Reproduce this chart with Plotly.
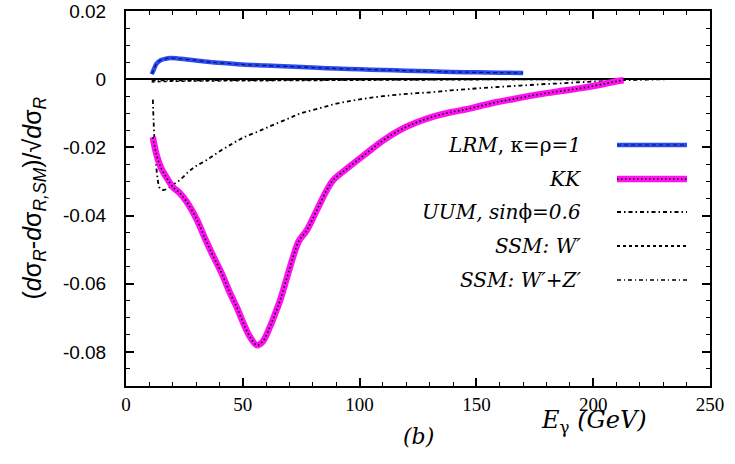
import plotly.graph_objects as go

# ---- data ----
lrm_E = [11, 12, 13, 15, 17, 19, 22, 26, 30, 35, 40, 50, 60, 70, 80, 90, 100,
         110, 120, 130, 140, 150, 160, 170]
lrm_v = [0.0015, 0.003, 0.0045, 0.0056, 0.006, 0.0062, 0.0061, 0.0058, 0.0055,
         0.0051, 0.0048, 0.0043, 0.004, 0.0037, 0.0034, 0.0031, 0.0029, 0.0027,
         0.0025, 0.0023, 0.0021, 0.002, 0.0019, 0.0018]

kk_E = [11.5, 13, 15, 17.5, 20, 23, 26, 30.4, 34, 37.4, 41, 44.5, 47.5, 50.2,
        53, 56, 58.5, 61.6, 64, 66, 69, 71.6, 74, 77.4, 81.7, 86, 88.7, 95, 103,
        110, 117, 124, 131.5, 139, 146, 152, 159, 166, 173, 180, 187, 194, 200,
        206, 210, 213]
kk_v = [-0.017, -0.022, -0.026, -0.029, -0.0316, -0.0334, -0.036, -0.0413,
        -0.047, -0.052, -0.057, -0.0627, -0.067, -0.0715, -0.0755, -0.078,
        -0.077, -0.0727, -0.0685, -0.0648, -0.058, -0.052, -0.0475, -0.0443,
        -0.0384, -0.0325, -0.0296, -0.026, -0.0217, -0.018, -0.015, -0.0128,
        -0.011, -0.0097, -0.0088, -0.0078, -0.0067, -0.0058, -0.0049, -0.0041,
        -0.0034, -0.0027, -0.002, -0.0012, -0.0006, -0.0003]

uum_E = [11.5, 11.8, 12.2, 12.8, 13.5, 14.5, 16, 18, 20, 23, 27, 30, 34.6, 40,
         45.8, 50, 56, 62, 69, 75, 83, 90, 97, 103, 110, 117, 124.5, 131.5, 139,
         145, 152, 159, 166, 173, 180, 187, 194, 200, 207, 214, 220, 226, 232]
uum_v = [-0.006, -0.012, -0.018, -0.024, -0.029, -0.032, -0.0325, -0.032,
         -0.031, -0.0296, -0.027, -0.0255, -0.0237, -0.0212, -0.0188, -0.0172,
         -0.0155, -0.0137, -0.0117, -0.010, -0.0085, -0.0072, -0.0063, -0.0056,
         -0.005, -0.0045, -0.0041, -0.0038, -0.0033, -0.003, -0.0026, -0.0023,
         -0.002, -0.0017, -0.0014, -0.0012, -0.0009, -0.0007, -0.0005, -0.0003,
         -0.0002, -0.0001, 0.0]

ssmw_E = [11, 20, 40, 60, 80, 100, 120, 140, 160, 180, 200, 220, 240]
ssmw_v = [-0.0008, -0.0006, -0.0005, -0.0004, -0.0003, -0.00025, -0.0002,
          -0.00015, -0.0001, -0.0001, -0.00005, 0.0, 0.0]
ssmwz_E = [11, 20, 40, 60, 80, 100, 120, 140, 160, 180, 200, 220, 240]
ssmwz_v = [-0.0004, -0.0004, -0.0003, -0.0003, -0.0002, -0.0002, -0.00015,
           -0.0001, -0.0001, -0.00005, 0.0, 0.0, 0.0]

x_ticks = [0, 50, 100, 150, 200, 250]
y_ticks = [0.02, 0, -0.02, -0.04, -0.06, -0.08]
y_ticktext = ["0.02", "0", "-0.02", "-0.04", "-0.06", "-0.08"]

legend_labels = ["<i>LRM</i>, κ=ρ=<i>1</i>", "<i>KK</i>",
                 "<i>UUM, sin</i>ϕ<i>=0.6</i>", "<i>SSM: W′</i>",
                 "<i>SSM: W′+Z′</i>"]

fig = go.Figure()

# curves
fig.add_trace(go.Scatter(x=ssmw_E, y=ssmw_v, mode="lines",
                         line=dict(color="black", width=1.5, dash="3px,3px")))
fig.add_trace(go.Scatter(x=ssmwz_E, y=ssmwz_v, mode="lines",
                         line=dict(color="black", width=1.5, dash="4px,2px,1px,2px")))
fig.add_trace(go.Scatter(x=uum_E, y=uum_v, mode="lines", line_shape="spline",
                         line=dict(color="black", width=1.8, dash="4px,3px,1.5px,3px")))
fig.add_trace(go.Scatter(x=lrm_E, y=lrm_v, mode="lines", line_shape="spline",
                         line=dict(color="#2a4cf5", width=4.5)))
fig.add_trace(go.Scatter(x=lrm_E, y=lrm_v, mode="lines", line_shape="spline",
                         line=dict(color="#101060", width=1.2, dash="4px,3px")))
fig.add_trace(go.Scatter(x=kk_E, y=kk_v, mode="lines", line_shape="spline",
                         line=dict(color="#ff10f0", width=6.5)))
fig.add_trace(go.Scatter(x=kk_E, y=kk_v, mode="lines", line_shape="spline",
                         line=dict(color="black", width=1.6, dash="1.5px,2.5px")))

# legend (drawn manually: text right-aligned, sample on the right)
leg_y = [145, 179, 212, 246, 280]   # pixel centres
H = 375.0
T = 11.0
def py(p):
    return 1 - (p - T) / H

sx0, sx1 = (617 - 126) / 584.0, (687 - 126) / 584.0
styles = [
    [dict(color="#2a4cf5", width=4.5), dict(color="#101060", width=1.2, dash="4px,3px")],
    [dict(color="#ff10f0", width=6.5), dict(color="black", width=1.6, dash="1.5px,2.5px")],
    [dict(color="black", width=1.8, dash="4px,3px,1.5px,3px")],
    [dict(color="black", width=1.8, dash="3px,3px")],
    [dict(color="black", width=1.5, dash="4px,3px,1px,3px")],
]
for lab, yy, st in zip(legend_labels, leg_y, styles):
    fig.add_annotation(text=lab, xref="paper", yref="paper",
                       x=(583 - 126) / 584.0, y=py(yy), xanchor="right",
                       yanchor="middle", showarrow=False,
                       font=dict(family="DejaVu Serif", size=20, color="black"))
    for s in st:
        fig.add_shape(type="line", xref="paper", yref="paper",
                      x0=sx0, x1=sx1, y0=py(yy), y1=py(yy), line=s)

# axis titles and panel label
fig.add_annotation(text="(<i>d</i>σ<sub><i>R</i></sub>-<i>d</i>σ<sub><i>R,SM</i></sub>)/√<i>d</i>σ<sub><i>R</i></sub>",
                   xref="paper", yref="paper", x=(33 - 126) / 584.0, y=0.5,
                   xanchor="center", yanchor="middle", textangle=-90,
                   showarrow=False,
                   font=dict(family="Liberation Sans", size=25, color="black"))
fig.add_annotation(text="<i>E</i><sub>γ</sub> <i>(GeV)</i>", xref="paper", yref="paper",
                   x=(594 - 126) / 584.0, y=(386 - 421) / H,
                   xanchor="center", yanchor="middle", showarrow=False,
                   font=dict(family="DejaVu Serif", size=24, color="black"))
fig.add_annotation(text="<i>(b)</i>", xref="paper", yref="paper",
                   x=(418 - 126) / 584.0, y=(386 - 436) / H,
                   xanchor="center", yanchor="middle", showarrow=False,
                   font=dict(family="DejaVu Serif", size=22, color="black"))

fig.update_layout(
    width=735, height=464,
    margin=dict(l=126, r=25, t=11, b=78),
    paper_bgcolor="white", plot_bgcolor="white",
    showlegend=False,
)
fig.update_xaxes(range=[0, 250], tickvals=x_ticks, ticktext=[str(v) for v in x_ticks],
                 automargin=False,
                 showgrid=False, zeroline=False, showline=True, linecolor="black",
                 linewidth=2, mirror="ticks", ticks="inside", ticklen=8,
                 tickwidth=1.5, tickcolor="black", ticklabelstandoff=0,
                 tickfont=dict(family="Liberation Serif", size=19, color="black"),
                 minor=dict(dtick=10, ticks="inside", ticklen=4, tickwidth=1,
                            tickcolor="black", showgrid=False))
fig.update_yaxes(range=[-0.09, 0.02], tickvals=y_ticks, ticktext=y_ticktext,
                 automargin=False,
                 showgrid=False, zeroline=True, zerolinecolor="black",
                 zerolinewidth=1.8, showline=True, linecolor="black",
                 linewidth=2, mirror="ticks", ticks="inside", ticklen=8,
                 tickwidth=1.5, tickcolor="black", ticklabelstandoff=14,
                 tickfont=dict(family="Liberation Sans", size=19, color="black"),
                 minor=dict(dtick=0.005, tick0=0, ticks="inside", ticklen=4,
                            tickwidth=1, tickcolor="black", showgrid=False))

fig.write_html("out.html")
